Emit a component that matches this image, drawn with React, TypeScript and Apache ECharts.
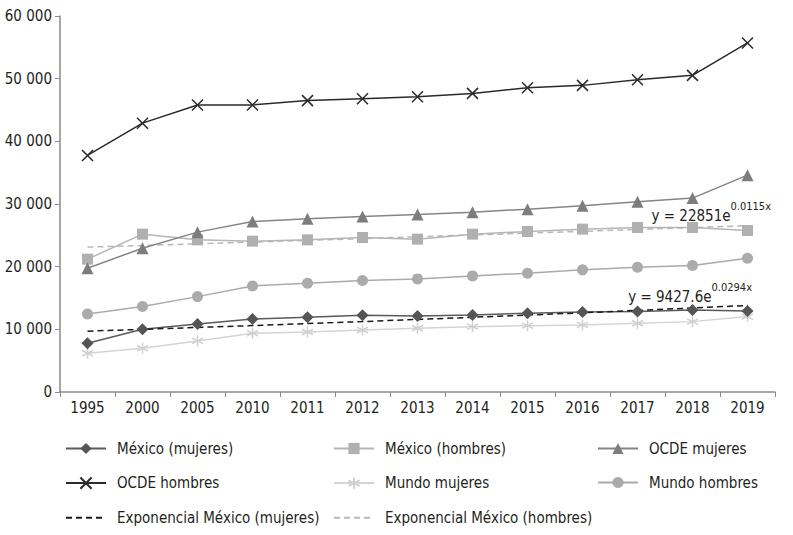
import { useEffect, useRef } from "react";
import * as echarts from "echarts";

const years = ["1995", "2000", "2005", "2010", "2011", "2012", "2013", "2014", "2015", "2016", "2017", "2018", "2019"];
const mexMujeres = [7780, 10010, 10860, 11660, 11920, 12250, 12140, 12300, 12570, 12780, 12830, 13100, 12940];
const mexHombres = [21200, 25190, 24280, 24070, 24280, 24650, 24390, 25190, 25610, 25990, 26250, 26250, 25770];
const ocdeMujeres = [19760, 22950, 25510, 27210, 27640, 28010, 28330, 28700, 29180, 29710, 30350, 30940, 34600];
const ocdeHombres = [37750, 42900, 45800, 45800, 46500, 46800, 47100, 47650, 48560, 48930, 49840, 50530, 55700];
const mundoMujeres = [6180, 6980, 8150, 9370, 9580, 9900, 10170, 10430, 10590, 10700, 10970, 11230, 12030];
const mundoHombres = [12460, 13630, 15220, 16930, 17360, 17790, 18050, 18530, 18960, 19490, 19920, 20180, 21360];
const expMujeres = [9710, 10000, 10300, 10600, 10920, 11240, 11580, 11920, 12280, 12640, 13020, 13410, 13810];
const expHombres = [23120, 23380, 23650, 23930, 24200, 24480, 24770, 25060, 25350, 25640, 25940, 26240, 26540];

const font = "'Liberation Sans Narrow', 'DejaVu Sans Condensed', sans-serif";
const ink = "#231f20";
const axisGray = "#8a8a8a";

const xMark = "path://M0,0L10,10M10,0L0,10";
const starMark = "path://M5,0L5,10M0.7,2.5L9.3,7.5M0.7,7.5L9.3,2.5";

// texto de la ecuación con exponente
const eqText = (base: string, exp: string) => ({
  text: `{m|${base}}{s|${exp}}`,
  rich: {
    m: { fontFamily: font, fontSize: 15, fill: ink, verticalAlign: "bottom", lineHeight: 22 },
    s: { fontFamily: font, fontSize: 11, fill: ink, verticalAlign: "top", lineHeight: 22 },
  },
});

export default function App() {
  const chartRef = useRef<HTMLDivElement>(null);

  useEffect(() => {
    if (!chartRef.current) return;
    const chart = echarts.init(chartRef.current, undefined, { renderer: "svg" });

    const legendBase = {
      orient: "vertical" as const,
      top: 436,
      itemWidth: 40,
      itemHeight: 14,
      itemGap: 19,
      textStyle: { fontFamily: font, fontSize: 15, color: ink, padding: [0, 0, 0, 6] },
    };
    const hideSym = { itemStyle: { opacity: 0 } };

    const option: echarts.EChartsOption = {
      animation: false,
      backgroundColor: "#fff",
      grid: { left: 60, right: 18, top: 16, bottom: 143, containLabel: false },
      legend: [
        {
          ...legendBase,
          left: 60,
          data: ["México (mujeres)", "OCDE hombres", { name: "Exponencial México (mujeres)", ...hideSym }],
        },
        {
          ...legendBase,
          left: 328,
          data: ["México (hombres)", "Mundo mujeres", { name: "Exponencial México (hombres)", ...hideSym }],
        },
        { ...legendBase, left: 592, data: ["OCDE mujeres", "Mundo hombres"] },
      ],
      xAxis: {
        type: "category",
        data: years,
        boundaryGap: true,
        axisLine: { lineStyle: { color: axisGray, width: 1.5 } },
        axisTick: { show: true, length: 5, lineStyle: { color: axisGray } },
        axisLabel: { fontFamily: font, fontSize: 15, color: ink, margin: 8 },
      },
      yAxis: {
        type: "value",
        min: 0,
        max: 60000,
        interval: 10000,
        splitLine: { show: false },
        axisLine: { show: true, lineStyle: { color: axisGray, width: 1.5 } },
        axisTick: { show: true, length: 5, lineStyle: { color: axisGray } },
        axisLabel: {
          fontFamily: font,
          fontSize: 15,
          color: ink,
          margin: 8,
          formatter: (v: number) => (v === 0 ? "0" : `${Math.floor(v / 1000)} 000`),
        },
      },
      graphic: [
        { type: "text", right: 22, top: 201, style: eqText("y = 22851e", "0.0115x") as any },
        { type: "text", right: 41, top: 282, style: eqText("y = 9427.6e", "0.0294x") as any },
      ],
      series: [
        {
          name: "Exponencial México (hombres)",
          type: "line",
          data: expHombres,
          symbol: "none",
          lineStyle: { color: "#b8b8b8", width: 1.5, type: [6, 4] },
          itemStyle: { color: "#b8b8b8" },
        },
        {
          name: "Mundo mujeres",
          type: "line",
          data: mundoMujeres,
          symbol: starMark,
          symbolSize: 11,
          lineStyle: { color: "#d4d4d4", width: 1.5 },
          itemStyle: { color: "none", borderColor: "#d0d0d0", borderWidth: 1.5 },
        },
        {
          name: "Mundo hombres",
          type: "line",
          data: mundoHombres,
          symbol: "circle",
          symbolSize: 11,
          lineStyle: { color: "#aaaaaa", width: 1.5 },
          itemStyle: { color: "#ababab" },
        },
        {
          name: "México (hombres)",
          type: "line",
          data: mexHombres,
          symbol: "rect",
          symbolSize: 11,
          lineStyle: { color: "#b5b5b5", width: 1.5 },
          itemStyle: { color: "#b0b0b0" },
        },
        {
          name: "OCDE mujeres",
          type: "line",
          data: ocdeMujeres,
          symbol: "triangle",
          symbolSize: 12,
          lineStyle: { color: "#858585", width: 1.5 },
          itemStyle: { color: "#7d7d7d" },
        },
        {
          name: "México (mujeres)",
          type: "line",
          data: mexMujeres,
          symbol: "diamond",
          symbolSize: 12,
          lineStyle: { color: "#5a5a5a", width: 1.5 },
          itemStyle: { color: "#555555" },
        },
        {
          name: "Exponencial México (mujeres)",
          type: "line",
          data: expMujeres,
          symbol: "none",
          lineStyle: { color: "#1a1a1a", width: 1.5, type: [6, 4] },
          itemStyle: { color: "#1a1a1a" },
        },
        {
          name: "OCDE hombres",
          type: "line",
          data: ocdeHombres,
          symbol: xMark,
          symbolSize: 11,
          lineStyle: { color: "#2a2a2a", width: 1.5 },
          itemStyle: { color: "none", borderColor: "#2a2a2a", borderWidth: 1.5 },
        },
      ],
    };

    chart.setOption(option);
    return () => chart.dispose();
  }, []);

  return (
    <div
      ref={chartRef}
      style={{ position: "fixed", left: 0, top: 0, width: 793, height: 535, background: "#fff" }}
    />
  );
}
